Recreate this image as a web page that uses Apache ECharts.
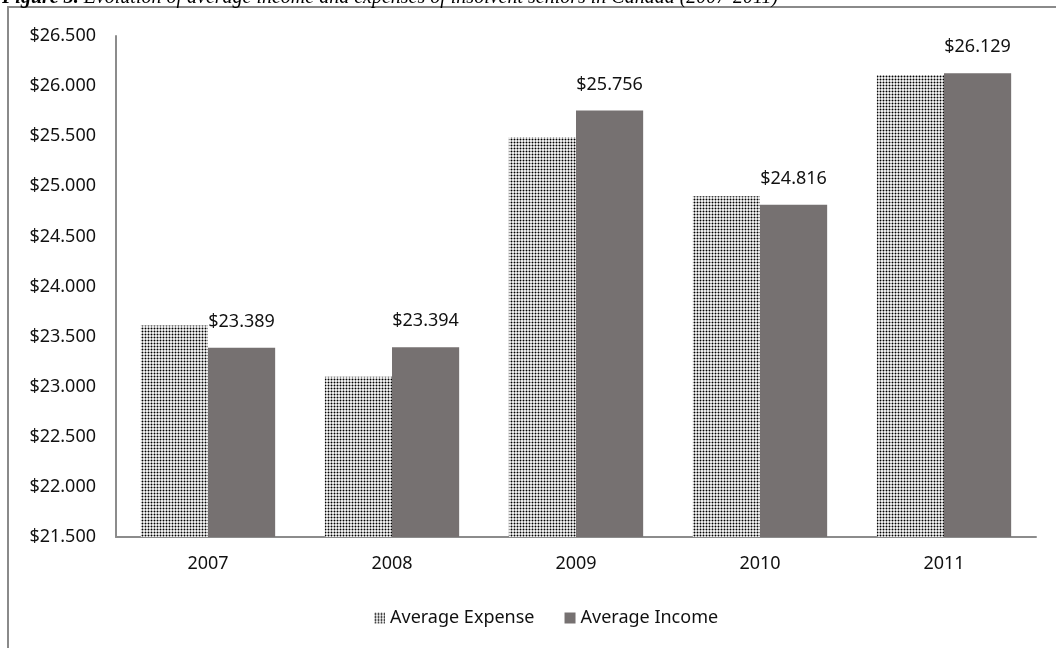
<!DOCTYPE html>
<html>
<head>
<meta charset="utf-8">
<script src="https://cdn.jsdelivr.net/npm/echarts@6/dist/echarts.min.js"></script>
<style>
  html, body { margin: 0; padding: 0; background: #ffffff; }
  #chart { width: 1056px; height: 648px; }
</style>
</head>
<body>
<div id="chart"></div>
<script>
// Years on the category axis
const years = ['2007', '2008', '2009', '2010', '2011'];
// Average yearly expense and income (dollars)
const averageExpense = [23610, 23100, 25490, 24900, 26110];
const averageIncome = [23389, 23394, 25756, 24816, 26129];
// Value axis range
const axisMin = 21500;
const axisMax = 26500;
const axisStep = 500;

const titleText = 'Evolution of average income and expenses of insolvent seniors in Canada (2007-2011)';

// Dollar amounts written with a dot as the thousands separator, e.g. $23.389
function money(v) {
  const thousands = Math.floor(v / 1000);
  const rest = String(Math.round(v % 1000)).padStart(3, '0');
  return '$' + thousands + '.' + rest;
}

// Fine dot fill for the expense bars
function dotPattern() {
  const c = document.createElement('canvas');
  c.width = 3; c.height = 3;
  const ctx = c.getContext('2d');
  ctx.fillStyle = '#ffffff';
  ctx.fillRect(0, 0, 3, 3);
  ctx.fillStyle = '#000000';
  ctx.beginPath();
  ctx.arc(1.5, 1.5, 1.0, 0, Math.PI * 2);
  ctx.fill();
  return { image: c, repeat: 'repeat' };
}

const font = 'Noto Sans';
const chart = echarts.init(document.getElementById('chart'), null, { renderer: 'canvas' });

chart.setOption({
  backgroundColor: '#ffffff',
  animation: false,
  graphic: [
    {
      type: 'rect',
      shape: { x: 8, y: 7, width: 1200, height: 800 },
      style: { fill: 'none', stroke: '#8a8a8a', lineWidth: 2 },
      silent: true
    },
    {
      type: 'text',
      left: 2,
      top: -12,
      style: {
        text: '{b|Figure 3. }{i|' + titleText + '}',
        rich: {
          b: { fontFamily: 'Liberation Serif', fontStyle: 'italic', fontWeight: 'bold', fontSize: 20, fill: '#000' },
          i: { fontFamily: 'Liberation Serif', fontStyle: 'italic', fontSize: 20, fill: '#000' }
        }
      },
      silent: true
    }
  ],
  legend: {
    left: 369,
    top: 604,
    itemWidth: 11,
    itemHeight: 11,
    itemGap: 30,
    icon: 'rect',
    textStyle: { fontFamily: font, fontSize: 18, color: '#111' },
    data: ['Average Expense', 'Average Income']
  },
  grid: { left: 116, right: 20, top: 36, bottom: 111, containLabel: false },
  xAxis: {
    type: 'category',
    data: years,
    axisLine: { lineStyle: { color: '#8c8c8c', width: 2 } },
    axisTick: { show: false },
    axisLabel: { fontFamily: font, fontSize: 18, color: '#111', margin: 18 }
  },
  yAxis: {
    type: 'value',
    min: axisMin,
    max: axisMax,
    interval: axisStep,
    axisLine: { show: true, lineStyle: { color: '#8c8c8c', width: 2 } },
    axisTick: { show: false },
    splitLine: { show: false },
    axisLabel: {
      fontFamily: font, fontSize: 18, color: '#111', margin: 20,
      formatter: v => money(v)
    }
  },
  series: [
    {
      name: 'Average Expense',
      type: 'bar',
      data: averageExpense,
      barGap: '0%',
      barCategoryGap: '27%',
      itemStyle: { color: dotPattern() }
    },
    {
      name: 'Average Income',
      type: 'bar',
      data: averageIncome,
      barGap: '0%',
      barCategoryGap: '27%',
      itemStyle: { color: '#767171' },
      label: {
        show: true,
        position: 'top',
        distance: 17,
        lineHeight: 18,
        fontFamily: font,
        fontSize: 18,
        color: '#111',
        formatter: p => money(p.value)
      }
    }
  ]
});
</script>
</body>
</html>
